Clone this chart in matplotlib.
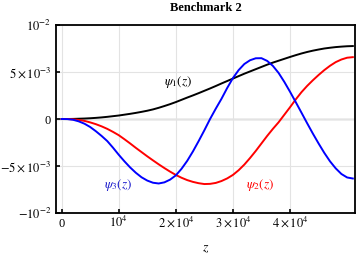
import matplotlib
matplotlib.use("Agg")
import matplotlib.pyplot as plt

plt.rcParams["font.family"] = ["Liberation Serif", "DejaVu Serif"]
plt.rcParams["mathtext.fontset"] = "stix"

# z samples (every 1000) and the three curves, values in units of 1e-3
z = list(range(0, 52000, 1000))
psi1 = [0.0, 0.0, 0.01, 0.03, 0.05, 0.08, 0.12, 0.17, 0.23, 0.30, 0.37,
        0.46, 0.55, 0.65, 0.76, 0.88, 1.02, 1.19, 1.38, 1.58, 1.80,
        2.04, 2.28, 2.51, 2.75, 3.00, 3.25, 3.51, 3.78, 4.04, 4.30,
        4.56, 4.82, 5.06, 5.30, 5.54, 5.78, 6.00, 6.20, 6.40, 6.60,
        6.79, 6.97, 7.13, 7.27, 7.39, 7.50, 7.58, 7.65, 7.70, 7.74, 7.76]
psi2 = [0.0, 0.0, -0.03, -0.10, -0.20, -0.36, -0.55, -0.78, -1.05, -1.37, -1.72,
        -2.15, -2.60, -3.07, -3.52, -3.97, -4.40, -4.82, -5.22, -5.60, -5.95,
        -6.25, -6.50, -6.69, -6.83, -6.92, -6.90, -6.80, -6.60, -6.32, -5.95,
        -5.45, -4.85, -4.15, -3.40, -2.60, -1.80, -1.05, -0.35, 0.45, 1.25,
        2.08, 2.85, 3.52, 4.12, 4.68, 5.20, 5.66, 6.05, 6.33, 6.52, 6.58]
psi3 = [0.0, -0.01, -0.08, -0.25, -0.50, -0.85, -1.30, -1.80, -2.35, -3.05, -3.80,
        -4.50, -5.15, -5.72, -6.20, -6.55, -6.78, -6.86, -6.74, -6.45, -6.00,
        -5.30, -4.45, -3.45, -2.35, -1.20, 0.00, 1.10, 2.15, 3.30, 4.35,
        5.20, 5.85, 6.25, 6.46, 6.47, 6.18, 5.65, 4.90, 3.95, 2.90,
        1.80, 0.68, -0.45, -1.55, -2.60, -3.60, -4.50, -5.25, -5.85, -6.22, -6.33]

x_ticks = [0, 1e4, 2e4, 3e4, 4e4]
x_ticklabels = ["0", r"$10^{4}$", r"$2\times10^{4}$", r"$3\times10^{4}$", r"$4\times10^{4}$"]
y_ticks = [-1e-2, -5e-3, 0, 5e-3, 1e-2]
y_ticklabels = [r"$-10^{-2}$", r"$-5\times10^{-3}$", "0", r"$5\times10^{-3}$", r"$10^{-2}$"]

fig = plt.figure(figsize=(3.6, 2.58), dpi=100)
ax = fig.add_axes([56 / 360, 1 - 213 / 258, 299 / 360, 188 / 258])

ax.grid(True, color="#e3e3e3", lw=0.8, zorder=0)
ax.axhline(0, color="#7f7f7f", lw=0.9, zorder=1)

scale = 1e-3
ax.plot(z, [v * scale for v in psi1], color="black", lw=1.4, zorder=3)
ax.plot(z, [v * scale for v in psi2], color="#ff0000", lw=1.4, zorder=3)
ax.plot(z, [v * scale for v in psi3], color="#0000ff", lw=1.4, zorder=3)

ax.text(20400, 3.96e-3, r"$\psi_1(z)$", color="black", fontsize=9.5, ha="center", va="center")
ax.text(34830, -6.97e-3, r"$\psi_2(z)$", color="#ff0000", fontsize=9.5, ha="center", va="center")
ax.text(9900, -7.03e-3, r"$\psi_3(z)$", color="#1a1acc", fontsize=9.5, ha="center", va="center")

ax.set_xlim(-980, 51380)
ax.set_ylim(-0.01, 0.01)
ax.set_xticks(x_ticks)
ax.set_xticklabels(x_ticklabels)
ax.set_yticks(y_ticks)
ax.set_yticklabels(y_ticklabels)
ax.tick_params(direction="in", length=3, width=1.2, labelsize=9, top=False, right=False)
ax.tick_params(axis="x", pad=10)
plt.setp(ax.get_xticklabels(), va="baseline")
for s in ax.spines.values():
    s.set_linewidth(1.3)
    s.set_color("black")

ax.set_xlabel(r"$z$", fontsize=10, labelpad=9)
fig.text(206 / 360, 1 - 8 / 258, "Benchmark 2", fontsize=9, fontweight="bold",
         ha="center", va="center")

fig.savefig("out.png", dpi=100)
